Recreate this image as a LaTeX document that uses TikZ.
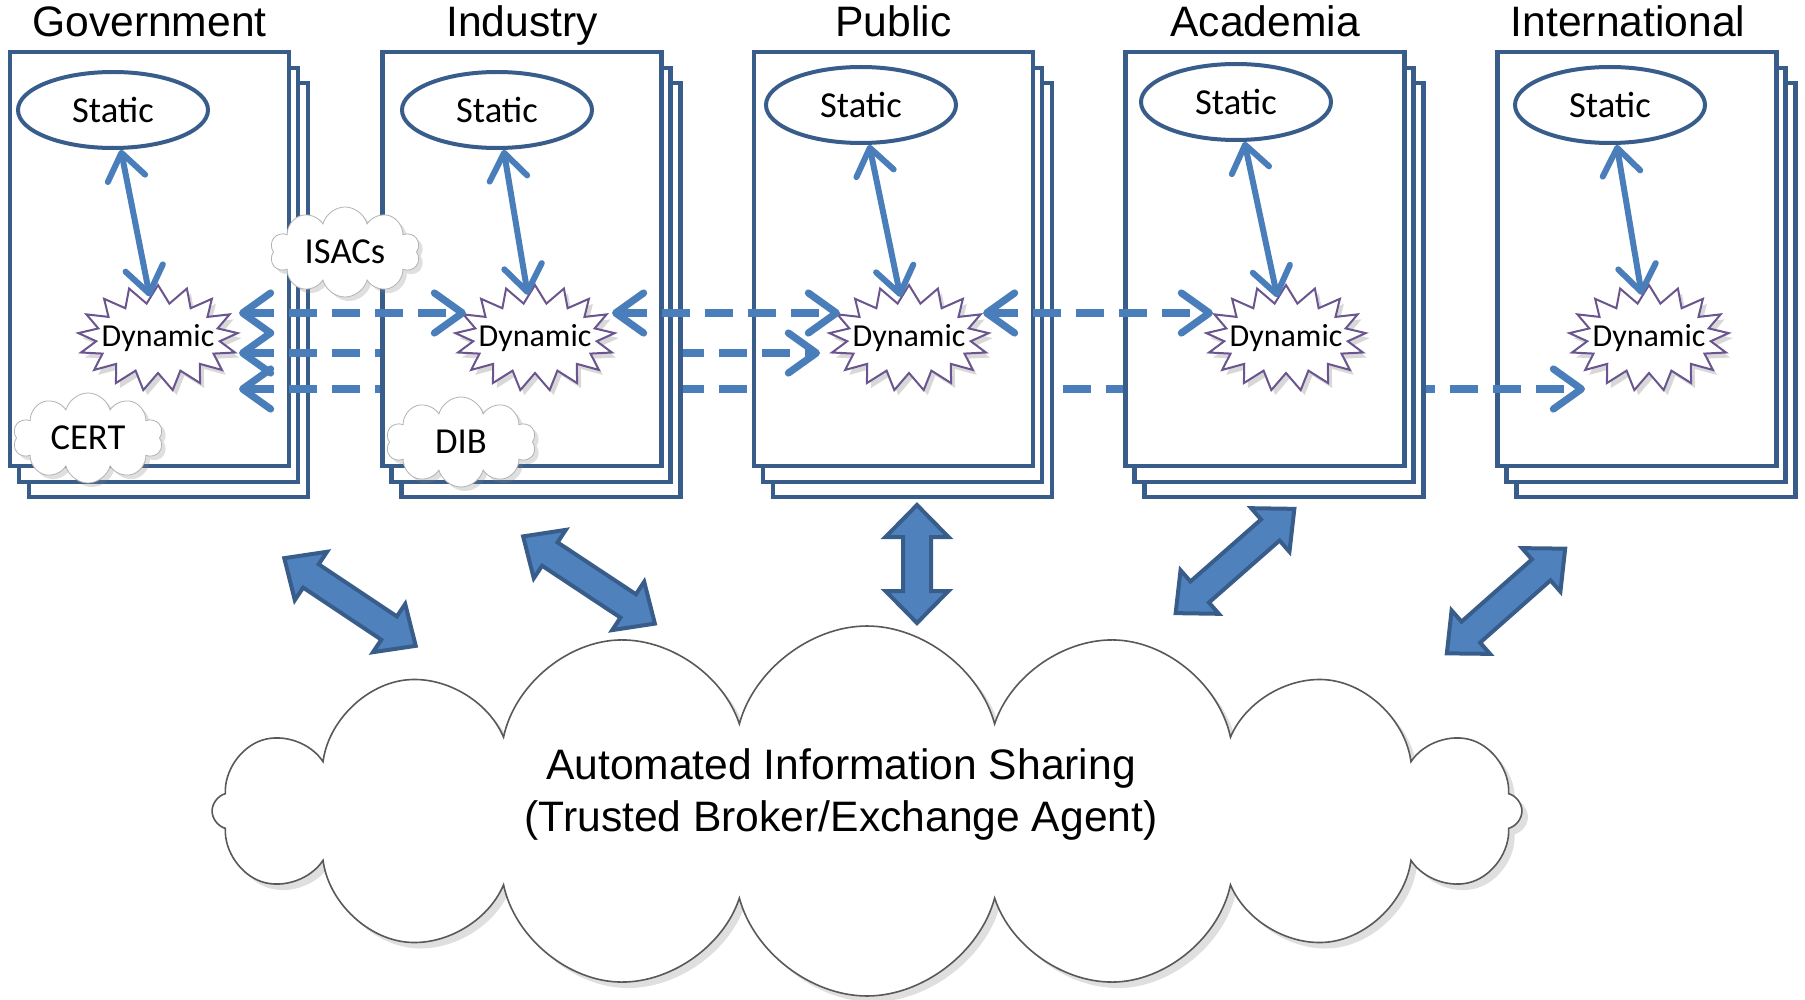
\documentclass[tikz,border=0pt]{standalone}
\usepackage{fontspec}
\setmainfont{Liberation Sans}
\newfontfamily\calibri{Carlito}
\usetikzlibrary{shapes.geometric,shapes.symbols,arrows.meta,shadows,positioning}

\definecolor{boxblue}{HTML}{385D8A}
\definecolor{linkblue}{HTML}{4A7EBB}
\definecolor{fillblue}{HTML}{4F81BD}
\definecolor{burstline}{HTML}{6A558E}

\pgfdeclarelayer{stackA}
\pgfdeclarelayer{linkA}
\pgfdeclarelayer{stackB}
\pgfdeclarelayer{linkB}
\pgfdeclarelayer{stackC}
\pgfsetlayers{stackA,linkA,stackB,linkB,stackC,main}

\newcommand{\burstlabel}[1]{\makebox[40pt][c]{#1}}

\tikzset{
  panel/.style={draw=boxblue,fill=white,line width=2.25pt,minimum width=139.5pt,minimum height=207pt,
    copy shadow={shadow xshift=9.5pt,shadow yshift=-15.5pt,draw=boxblue,fill=white,line width=2.25pt},
    copy shadow={shadow xshift=4.5pt,shadow yshift=-8pt,draw=boxblue,fill=white,line width=2.25pt}},
  sector/.style={font=\fontsize{21.3}{26}\selectfont,anchor=base,inner sep=0pt},
  static/.style={ellipse,draw=boxblue,fill=white,line width=2pt,minimum width=95pt,minimum height=38pt,
    inner sep=0pt,font=\calibri\fontsize{18.3}{22}\selectfont},
  dynamic/.style={starburst,starburst points=17,starburst point height=9pt,random starburst=0,
    draw=burstline,line width=1pt,fill=white,minimum width=80pt,minimum height=53pt,inner sep=0pt,
    font=\calibri\fontsize{16}{19}\selectfont,drop shadow={opacity=0.3,shadow xshift=2pt,shadow yshift=-2.5pt}},
  group/.style={cloud,cloud puffs=10,cloud ignores aspect,draw=black!30,fill=white,minimum width=75pt,minimum height=45pt,
    inner sep=0pt,font=\calibri\fontsize{18.3}{22}\selectfont,drop shadow={opacity=0.25,shadow xshift=2pt,shadow yshift=-2pt}},
  broker/.style={cloud,cloud puffs=16,draw=black!65,line width=0.8pt,fill=white,minimum width=655pt,minimum height=185pt,
    drop shadow={opacity=0.25,shadow xshift=3pt,shadow yshift=-3pt}},
  bigarrow/.style={draw=boxblue,fill=fillblue,line width=2pt},
  pics/blockarrow/.style 2 args={code={
    \draw[bigarrow] (-#1,0) -- (-#1+32,#2) -- (-#1+32,14) -- (#1-32,14) -- (#1-32,#2) -- (#1,0)
      -- (#1-32,-#2) -- (#1-32,-14) -- (-#1+32,-14) -- (-#1+32,-#2) -- cycle;}},
  updown/.style={draw=linkblue,line width=3pt,
    {Straight Barb[length=13pt,width=19pt,round]}-{Straight Barb[length=13pt,width=19pt,round]}},
  dashlink/.style={draw=linkblue,line width=3.6pt,dash pattern=on 14pt off 7.5pt,
    {Straight Barb[length=14pt,width=20pt,round]}-{Straight Barb[length=14pt,width=20pt,round]}}
}

\begin{document}
\begin{tikzpicture}[x=0.5pt,y=-0.5pt]
  \useasboundingbox (0,0) rectangle (1805,1000);

  % stacks of pages
  \begin{pgfonlayer}{stackA}
    \node[panel] (govbox) at (149.5,259) {};
    \node[panel] (intbox) at (1637,259) {};
  \end{pgfonlayer}
  \begin{pgfonlayer}{stackB}
    \node[panel] (acabox) at (1265,259) {};
    \node[panel] (pubbox) at (893.5,259) {};
  \end{pgfonlayer}
  \begin{pgfonlayer}{stackC}
    \node[panel] (indbox) at (522,259) {};
  \end{pgfonlayer}

  \node[sector] (govname) at ([yshift=6.5pt]govbox.north) {Government};
  \node[sector] (indname) at ([yshift=6.5pt]indbox.north) {Industry};
  \node[sector] (pubname) at ([yshift=6.5pt]pubbox.north) {Public};
  \node[sector] (acaname) at ([yshift=6.5pt]acabox.north) {Academia};
  \node[sector] (intname) at ([xshift=-4.5pt,yshift=6.5pt]intbox.north) {International};

  \node[static] (govstat) at (113,110) {Static};
  \node[static] (indstat) at (497,110) {Static};
  \node[static] (pubstat) at (861,105) {Static};
  \node[static] (acastat) at (1236,102) {Static};
  \node[static] (intstat) at (1610,105) {Static};

  \node[dynamic] (govdyn) at (158,338) {\burstlabel{Dynamic}};
  \node[dynamic] (inddyn) at (535,338) {\burstlabel{Dynamic}};
  \node[dynamic] (pubdyn) at (909,338) {\burstlabel{Dynamic}};
  \node[dynamic] (acadyn) at (1286,338) {\burstlabel{Dynamic}};
  \node[dynamic] (intdyn) at (1649,338) {\burstlabel{Dynamic}};

  \draw[updown] (govstat) -- (govdyn);
  \draw[updown] (indstat) -- (inddyn);
  \draw[updown] (pubstat) -- (pubdyn);
  \draw[updown] (acastat) -- (acadyn);
  \draw[updown] (intstat) -- (intdyn);

  % exchanges between sectors
  \draw[dashlink] ([xshift=40.5pt,yshift=12.5pt]govdyn.center) -- ([xshift=-34.5pt,yshift=12.5pt]inddyn.center);
  \draw[dashlink] ([xshift=38.5pt,yshift=12.5pt]inddyn.center) -- ([xshift=-34.5pt,yshift=12.5pt]pubdyn.center);
  \draw[dashlink] ([xshift=37pt,yshift=12.5pt]pubdyn.center) -- ([xshift=-36.5pt,yshift=12.5pt]acadyn.center);
  \begin{pgfonlayer}{linkB}
    \draw[dashlink] ([xshift=40.5pt,yshift=-7.5pt]govdyn.center) -- ([xshift=-44.5pt,yshift=-7.5pt]pubdyn.center);
  \end{pgfonlayer}
  \begin{pgfonlayer}{linkA}
    \draw[dashlink] ([xshift=40.5pt,yshift=-25.5pt]govdyn.center) -- ([xshift=-32pt,yshift=-25.5pt]intdyn.center);
  \end{pgfonlayer}

  \node[group] (isacs) at (345,252) {ISACs};
  \node[group] (cert) at (88,438) {CERT};
  \node[group] (dib) at (461,442) {DIB};

  \node[broker] (sharing) at (867,811) {};
  \node[font=\fontsize{21.3}{26}\selectfont,align=center] (sharetext) at (841,794)
    {Automated Information Sharing\\(Trusted Broker/Exchange Agent)};

  % links to the broker
  \pic[rotate=-33.7] (govlink) at (350,602) {blockarrow={79}{29}};
  \pic[rotate=-33.5] (indlink) at (589,580) {blockarrow={79}{29}};
  \pic[rotate=90] (publink) at (917,564) {blockarrow={59}{31.5}};
  \pic[rotate=41.3] (acalink) at (1235,561) {blockarrow={79}{29}};
  \pic[rotate=41.5] (intlink) at (1506,601) {blockarrow={79}{29}};
\end{tikzpicture}
\end{document}
